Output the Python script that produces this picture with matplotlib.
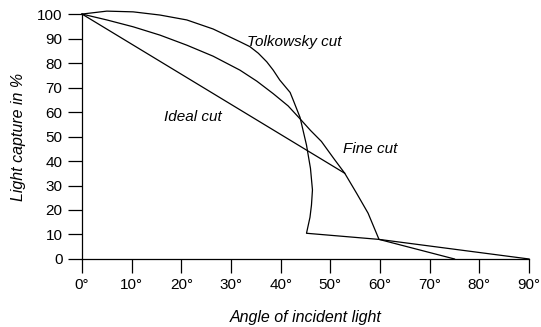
import matplotlib
matplotlib.use("Agg")
import matplotlib.pyplot as plt

plt.rcParams["font.family"] = ["Liberation Sans", "DejaVu Sans"]
plt.rcParams["font.size"] = 11

# Light capture (%) vs. angle of incident light (degrees) for three cuts
tolkowsky_x = [0, 5.0, 10.3, 15.7, 21.1, 26.4, 31.8, 33.8, 35.5, 37.2, 38.5, 39.8,
               41.9, 42.5, 43.9, 45.2, 46.0, 46.4, 46.2, 45.9, 45.2, 59.8, 90]
tolkowsky_y = [100, 101.2, 100.9, 99.6, 97.6, 93.9, 88.7, 86.7, 84.0, 80.5, 77.1, 73.1,
               68.0, 65.0, 57.8, 46.5, 37.0, 28.2, 22.0, 17.0, 10.5, 8.0, 0]

fine_x = [0, 5.0, 10.3, 15.7, 21.1, 26.4, 31.8, 35.2, 38.5, 41.5, 44.0, 46.0,
          48.2, 50.7, 52.9, 55.3, 57.6, 59.8, 75]
fine_y = [100, 97.6, 94.8, 91.4, 87.3, 82.8, 77.1, 72.6, 67.5, 62.5, 57.0, 52.5,
          48.0, 41.0, 35.0, 26.8, 18.7, 8.0, 0]

ideal_x = [0, 52.9]
ideal_y = [100, 35.0]

x_ticks = [0, 10, 20, 30, 40, 50, 60, 70, 80, 90]
y_ticks = [0, 10, 20, 30, 40, 50, 60, 70, 80, 90, 100]

fig = plt.figure(figsize=(5.41, 3.27), dpi=100)
ax = fig.add_axes([0.1516, 0.208, 0.8262, 0.749])

for xs, ys in [(tolkowsky_x, tolkowsky_y), (fine_x, fine_y), (ideal_x, ideal_y)]:
    ax.plot(xs, ys, color="black", lw=0.9, clip_on=False, solid_joinstyle="round")

ax.text(42.7, 88.6, "Tolkowsky cut", style="italic", ha="center", va="center")
ax.text(22.3, 58.0, "Ideal cut", style="italic", ha="center", va="center")
ax.text(58.0, 45.0, "Fine cut", style="italic", ha="center", va="center")

ax.set_xlim(0, 90)
ax.set_ylim(0, 100)
ax.set_xticks(x_ticks)
ax.set_xticklabels([f"{t}°" for t in x_ticks])
ax.set_yticks(y_ticks)

for side in ["top", "right"]:
    ax.spines[side].set_visible(False)
for side in ["left", "bottom"]:
    ax.spines[side].set_linewidth(0.9)

ax.tick_params(direction="out", length=10, width=0.9, pad=4, colors="black")

ax.set_xlabel("Angle of incident light", style="italic", fontsize=11.5, labelpad=13)
ax.set_ylabel("Light capture in %", style="italic", fontsize=11.5, labelpad=8)

fig.savefig("out.png", dpi=100)
